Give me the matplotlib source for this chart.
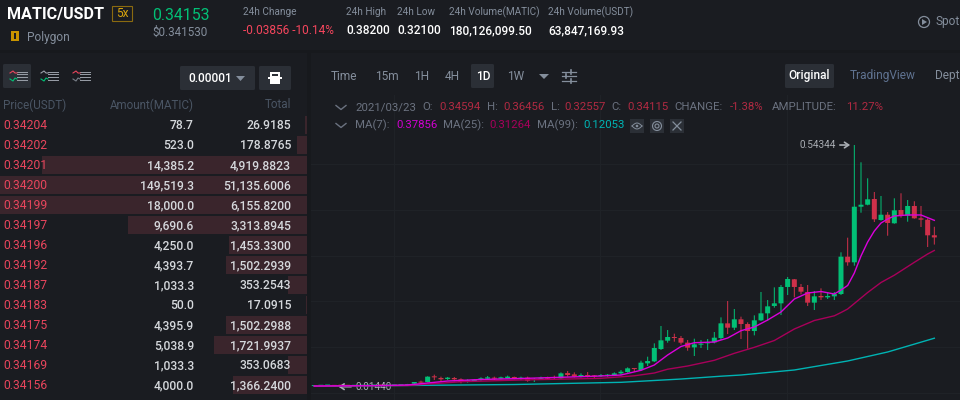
import numpy as np
import matplotlib
matplotlib.use("Agg")
import matplotlib.pyplot as plt
from matplotlib.patches import Rectangle, Polygon, FancyBboxPatch

plt.rcParams['font.family'] = ['Roboto', 'DejaVu Sans']

# ---------- data ----------
opens = [.0158,.0165,.0170,.0172,.0168,.0166,.0164,.0166,.0168,.0170,.0172,.0170,.0172,.0175,.0180,
 .0211,.0254,.0247,.0364,.0335,.0313,.0335,.0306,.0247,.0269,.0306,.0320,.0335,.0320,.0327,.0357,.0313,.0342,.0291,.0320,.0349,.0349,
 .0326,.0443,.0414,.0378,.0392,.0378,.0378,.0385,.0392,.0436,.0465,.0546,.0509,.0655,.0699,.0969,.1151,.1232,
 .1210,.1108,.1005,.1064,.1093,.1115,.1210,.1531,.1436,.1619,.1516,.1363,.1597,.1750,.1911,.1969,.2327,.2495,.2327,.2217,.1984,.2130,.2100,.2122,
 .2173,.2990,.2867,.4084,.4128,.4253,.3793,.3909,.3721,.4012,.3887,.4100,.3830,.3800,.34594]
highs = [.0170,.0175,.0178,.0178,.0174,.0172,.0172,.0172,.0174,.0176,.0176,.0176,.0178,.0184,.0205,
 .0247,.0276,.0371,.0408,.0364,.0357,.0357,.0327,.0306,.0313,.0349,.0379,.0364,.0364,.0386,.0364,.0364,.0364,.0335,.0364,.0364,.0386,
 .0458,.0487,.0458,.0436,.0465,.0400,.0421,.0421,.0458,.0509,.0567,.0546,.0713,.0801,.1093,.1473,.1385,.1305,
 .1254,.1166,.1195,.1166,.1188,.1341,.1662,.2020,.1845,.1677,.1553,.1706,.2217,.2042,.2319,.2370,.2546,.2502,.2392,.2370,.2239,.2297,.2210,.2217,
 .3086,.3406,.54344,.5056,.4706,.4406,.4319,.3968,.4268,.4378,.4231,.4203,.4100,.3830,.36456]
lows = [.0152,.0158,.0164,.0144,.0160,.0160,.0158,.0160,.0162,.0164,.0164,.0164,.0166,.0170,.0174,
 .0203,.0218,.0240,.0291,.0269,.0291,.0262,.0218,.0233,.0254,.0276,.0291,.0291,.0306,.0327,.0306,.0291,.0254,.0247,.0291,.0291,.0306,
 .0312,.0363,.0348,.0348,.0348,.0326,.0356,.0363,.0385,.0400,.0451,.0465,.0494,.0597,.0684,.0947,.1108,.1130,
 .1064,.0932,.0816,.0991,.0947,.1093,.1166,.1297,.1385,.1188,.0976,.1268,.1582,.1589,.1874,.1713,.2151,.2100,.2166,.1911,.1823,.2042,.2064,.2042,
 .2151,.2793,.2793,.3953,.4115,.3749,.3778,.3449,.3712,.3844,.3756,.3822,.3640,.3202,.32557]
closes = [.0165,.0170,.0172,.0162,.0166,.0164,.0166,.0168,.0170,.0172,.0170,.0172,.0175,.0180,.0200,
 .0247,.0233,.0364,.0349,.0306,.0342,.0306,.0247,.0284,.0298,.0327,.0349,.0320,.0349,.0364,.0320,.0342,.0276,.0313,.0342,.0320,.0335,
 .0436,.0400,.0363,.0392,.0378,.0370,.0400,.0407,.0436,.0472,.0546,.0531,.0670,.0706,.0991,.1159,.1232,.1210,
 .1108,.0998,.1071,.1078,.1108,.1217,.1531,.1436,.1619,.1516,.1363,.1597,.1750,.1903,.1969,.2327,.2502,.2327,.2224,.1984,.2122,.2100,.2130,.2173,
 .2990,.2867,.4084,.4128,.4246,.3808,.3909,.3728,.4005,.3887,.4100,.3830,.3800,.3458,.34115]

ma7_days = [0,10,14,17,20,25,31,37,43,46,49,51,53,55,57,60,62,64,66,68,70,72,74,76,78,79,80,81,82,83,84,85,86,87,89,91,93]
ma7_vals = [.0159,.0170,.0181,.0225,.0269,.0302,.0324,.0350,.0378,.0400,.0503,.0619,.0838,.1024,.1107,.1122,.1210,.1370,.1451,.1604,.1779,.2064,.2195,.2228,.2173,.2261,.2360,.2633,.3005,.3312,.3552,.3727,.3815,.3881,.3903,.3903,.37856]
ma25_days = [0,14,22,31,43,48,51,53,56,60,63,66,69,72,75,78,79,80,83,85,87,90,92,93]
ma25_vals = [.0159,.0170,.0253,.0291,.0328,.0383,.0444,.0527,.0597,.0722,.0875,.1006,.1155,.1407,.1593,.1696,.1768,.1845,.2206,.2425,.2585,.2867,.3049,.31264]
ma99_days = [0,30,46,55,61,64,72,80,86,93]
ma99_vals = [.0153,.0192,.0240,.0312,.0374,.0400,.0510,.0707,.0904,.12053]

book_prices = ["0.34204","0.34202","0.34201","0.34200","0.34199","0.34197","0.34196","0.34192","0.34187","0.34183","0.34175","0.34174","0.34169","0.34156"]
book_amounts = ["78.7","523.0","14,385.2","149,519.3","18,000.0","9,690.6","4,250.0","4,393.7","1,033.3","50.0","4,395.9","5,038.9","1,033.3","4,000.0"]
book_totals = ["26.9185","178.8765","4,919.8823","51,135.6006","6,155.8200","3,313.8945","1,453.3300","1,502.2939","353.2543","17.0915","1,502.2988","1,721.9937","353.0683","1,366.2400"]
book_depth = [.005,.03,.864,1,1,.582,.254,.263,.061,.003,.263,.302,.061,.239]

# ---------- colours ----------
BG = '#1a1c21'; BTN = '#2b2f36'; GREY = '#848e9c'; GREY2 = '#6b7280'; WHITE = '#eaecef'
GREEN = '#02c076'; RED = '#cf304a'; RED2 = '#e8455c'; DEPTH = '#3a252c'; GRID = '#1f2227'

fig = plt.figure(figsize=(9.6, 4), dpi=100, facecolor=BG)
ui = fig.add_axes([0, 0, 1, 1], zorder=1)
ui.set_xlim(0, 960); ui.set_ylim(400, 0); ui.axis('off')

def T(x, y, s, size=8.4, color=WHITE, ha='left', weight='normal', zorder=5):
    ui.text(x, y, s, fontsize=size, color=color, ha=ha, va='center', weight=weight, zorder=zorder)

def R(x0, y0, x1, y1, color, zorder=1):
    ui.add_patch(Rectangle((x0, y0), x1 - x0, y1 - y0, fc=color, ec='none', zorder=zorder))

def B(x0, y0, x1, y1, color=BTN):
    ui.add_patch(FancyBboxPatch((x0 + 1.5, y0 + 1.5), x1 - x0 - 3, y1 - y0 - 3,
                                boxstyle='round,pad=1.5', fc=color, ec='none', zorder=2))

# panel structure
R(0, 50, 960, 53, '#17191d'); R(307, 53, 311, 400, '#17191d')
for gy in [164, 210, 256, 301, 347, 393]:
    R(311, gy, 960, gy + 1, GRID)
for gx in [394, 600, 787]:
    R(gx, 95, gx + 1, 400, GRID)

# header
T(7, 14, "MATIC/USDT", size=11.6, color='#ffffff', weight='bold')
ui.add_patch(Rectangle((111.5, 6), 20, 14.5, fc='none', ec='#8a6a10', lw=0.8, zorder=3))
T(116, 13.5, "5x", size=8.6, color='#d9a50c')
R(11, 31, 19, 41, '#c99400', zorder=3); R(14, 33, 16, 39, '#1a1c21', zorder=4)
T(27, 37, "Polygon", size=8.6, color=GREY)
T(152, 15, "0.34153", size=11.4, color=GREEN)
T(152, 32, "$0.341530", size=8.4, color=GREY)
T(243, 12, "24h Change", size=7.2, color=GREY)
T(243, 31, "-0.03856 -10.14%", size=8.6, color='#f6465d')
for x, a, b in [(346, "24h High", "0.38200"), (397, "24h Low", "0.32100"),
                (449, "24h Volume(MATIC)", "180,126,099.50"), (548.5, "24h Volume(USDT)", "63,847,169.93")]:
    T(x, 12, a, size=7.2, color=GREY)
    T(x, 31, b, size=8.6, color='#ffffff', weight='medium')
ui.add_patch(plt.Circle((924, 22), 5.5, fc='none', ec=GREY, lw=0.9, zorder=3))
ui.add_patch(Polygon([[922, 19], [922, 25], [927, 22]], fc=GREY, ec='none', zorder=3))
T(936, 22, "Spot", size=8.6, color=GREY)

# order book toolbar
B(3, 64, 31, 88)
for ox, c1, c2 in [(10, RED2, GREEN), (41, '#777d87', GREEN), (73, RED2, '#777d87')]:
    for k, yy in enumerate([71.5, 74, 76.5, 79.5]):
        col = '#9aa0a9'
        ui.plot([ox + 7, ox + 17], [yy, yy], color=col, lw=0.7, zorder=3)
    ui.plot([ox, ox + 3, ox + 5, ox + 7], [73, 71, 73, 73], color=c1 if c1 != '#777d87' else col, lw=0.8, zorder=3)
    ui.plot([ox, ox + 3, ox + 5, ox + 7], [79, 81, 78, 79], color=c2, lw=0.8, zorder=3)
B(180, 66, 255, 90)
T(188, 78.5, "0.00001", size=8.6, color='#ffffff', weight='medium')
ui.add_patch(Polygon([[236, 76], [245, 76], [240.5, 81]], fc=GREY, ec='none', zorder=3))
B(259, 66, 291, 90)
R(270, 72, 280, 84, '#ffffff', zorder=3); R(268, 77, 282, 79, '#ffffff', zorder=3); R(272, 74, 278, 76, BTN, zorder=4)

# order book table
T(3, 105, "Price(USDT)", size=8.4, color='#4a5564')
T(194, 105, "Amount(MATIC)", size=8.4, color='#4a5564', ha='right')
T(291, 105, "Total", size=8.4, color='#4a5564', ha='right')
for k in range(len(book_prices)):
    yc = 125 + 20 * k
    R(306.7 * (1 - book_depth[k]), yc - 9, 306.7, yc + 9, DEPTH)
    T(3, yc + 0.8, book_prices[k], size=8.7, color=RED2)
    T(194, yc + 0.8, book_amounts[k], size=8.7, color='#d5d8dc', ha='right', weight='medium')
    T(291, yc + 0.8, book_totals[k], size=8.7, color='#d5d8dc', ha='right', weight='medium')

# chart toolbar
for x, s in [(331, "Time"), (375, "15m"), (414, "1H"), (445, "4H"), (507, "1W")]:
    T(x, 76, s, size=8.6, color=GREY)
B(471, 64, 494, 88)
T(476, 76, "1D", size=8.6, color='#ffffff', weight='medium')
ui.add_patch(Polygon([[539, 74], [549, 74], [544, 79]], fc=GREY, ec='none', zorder=3))
for yy, kx in [(71.5, 571), (76, 566), (80.5, 571)]:
    ui.plot([562, 576], [yy, yy], color=GREY, lw=0.9, zorder=3)
    ui.plot([kx, kx], [yy - 2, yy + 2], color=GREY, lw=1.2, zorder=3)
B(785, 64, 834, 88)
T(788, 76, "Original", size=8.6, color='#ffffff', weight='medium')
T(850, 76, "TradingView", size=8.6, color='#5f7290')
T(935, 76, "Depth", size=8.6, color=GREY)

# legend
for yy in [105.5, 123.5]:
    ui.plot([336, 341, 346], [yy, yy + 4, yy], color=GREY2, lw=1.0, zorder=3)
L1 = '#b02a42'
for x, s, c in [(355, "2021/03/23", GREY2), (422, "O:", GREY2), (439, "0.34594", L1), (486.5, "H:", GREY2),
                (503, "0.36456", L1), (550.5, "L:", GREY2), (564.5, "0.32557", L1), (611.5, "C:", GREY2),
                (627.5, "0.34115", L1), (674, "CHANGE:", GREY2), (730, "-1.38%", L1),
                (771.5, "AMPLITUDE:", GREY2), (846, "11.27%", L1)]:
    T(x, 107.5, s, size=8.2, color=c)
for x, s, c in [(355, "MA(7):", GREY2), (396, "0.37856", '#d000d0'), (443, "MA(25):", GREY2), (489, "0.31264", '#a8005c'),
                (536.5, "MA(99):", GREY2), (583.5, "0.12053", '#00b4b4')]:
    T(x, 125.5, s, size=8.2, color=c)
for x0, kind in [(630, 'eye'), (650, 'target'), (670, 'x')]:
    R(x0, 119, x0 + 14, 133, BTN)
    if kind == 'eye':
        ui.plot(np.linspace(x0 + 2, x0 + 12, 11), 126 - 3 * np.sin(np.linspace(0, np.pi, 11)), color=GREY, lw=0.7, zorder=3)
        ui.plot(np.linspace(x0 + 2, x0 + 12, 11), 126 + 3 * np.sin(np.linspace(0, np.pi, 11)), color=GREY, lw=0.7, zorder=3)
        ui.add_patch(plt.Circle((x0 + 7, 126), 1.3, fc=GREY, ec='none', zorder=3))
    elif kind == 'target':
        ui.add_patch(plt.Circle((x0 + 7, 126), 4.5, fc='none', ec=GREY, lw=0.8, zorder=3))
        ui.add_patch(plt.Circle((x0 + 7, 126), 2, fc='none', ec=GREY, lw=0.8, zorder=3))
    else:
        ui.plot([x0 + 3, x0 + 11], [122, 130], color=GREY, lw=0.9, zorder=3)
        ui.plot([x0 + 3, x0 + 11], [130, 122], color=GREY, lw=0.9, zorder=3)

# ---------- candlestick chart ----------
ax = fig.add_axes([310 / 960, 0, 650 / 960, 1], zorder=2)
ax.patch.set_alpha(0)
ax.axis('off')
ax.set_xlim(-0.645, 96.85)
ax.set_ylim(-0.0147, 0.8609)

o, h, l, c = map(np.array, (opens, highs, lows, closes))
days = np.arange(len(o))
cols = np.where(c >= o, GREEN, RED)
wicks = ax.vlines(days, l, h, colors=cols, lw=0.72, zorder=2)
wicks.set_snap(False)
one_px = 0.0022
bars = ax.bar(days, np.maximum(np.abs(c - o), one_px), bottom=np.minimum(o, c), width=0.75,
              color=cols, linewidth=0, zorder=3)
for b in bars:
    b.set_snap(False)

ax.plot(ma99_days, ma99_vals, color='#00b3b3', lw=1.0, zorder=4)
ax.plot(ma25_days, ma25_vals, color='#a8005a', lw=1.0, zorder=5)
ax.plot(ma7_days, ma7_vals, color='#dc00dc', lw=1.0, zorder=6)

imax = int(np.argmax(h)); imin = int(np.argmin(l))
arrow = dict(arrowstyle='->,head_width=0.28,head_length=0.42', color='#a9adb3', lw=1.2, shrinkA=1, shrinkB=3)
ax.annotate(f"{h[imax]:.5f}", xy=(imax, h[imax]), xytext=(-55, 0), textcoords='offset pixels',
            fontsize=7.2, color='#a9adb3', va='center', ha='left', arrowprops=arrow)
ax.annotate(f"{l[imin]:.5f}", xy=(imin, l[imin]), xytext=(21, 0), textcoords='offset pixels',
            fontsize=7.2, color='#a9adb3', va='center', ha='left', arrowprops=arrow)

fig.savefig("out.png", dpi=100, facecolor=BG)
